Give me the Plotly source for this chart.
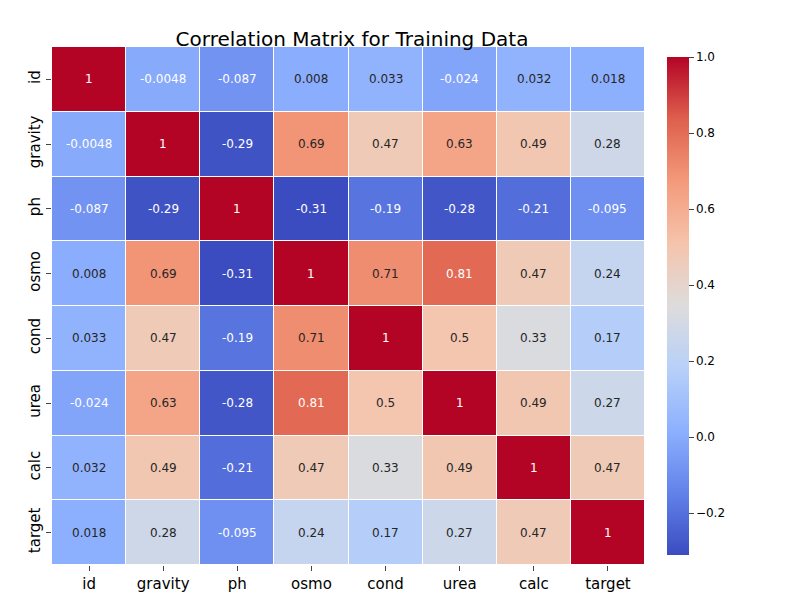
import plotly.graph_objects as go

labels = ["id", "gravity", "ph", "osmo", "cond", "urea", "calc", "target"]
corr = [
    [1, -0.0048, -0.087, 0.008, 0.033, -0.024, 0.032, 0.018],
    [-0.0048, 1, -0.29, 0.69, 0.47, 0.63, 0.49, 0.28],
    [-0.087, -0.29, 1, -0.31, -0.19, -0.28, -0.21, -0.095],
    [0.008, 0.69, -0.31, 1, 0.71, 0.81, 0.47, 0.24],
    [0.033, 0.47, -0.19, 0.71, 1, 0.5, 0.33, 0.17],
    [-0.024, 0.63, -0.28, 0.81, 0.5, 1, 0.49, 0.27],
    [0.032, 0.49, -0.21, 0.47, 0.33, 0.49, 1, 0.47],
    [0.018, 0.28, -0.095, 0.24, 0.17, 0.27, 0.47, 1],
]

coolwarm = [
    [0.0, "#3b4cc0"], [0.125, "#6282ea"], [0.25, "#8db0fe"], [0.375, "#b8d0f9"],
    [0.5, "#dddcdc"], [0.625, "#f5c4ac"], [0.75, "#f49a7b"], [0.875, "#de604d"],
    [1.0, "#b40426"],
]

fig = go.Figure(go.Heatmap(
    z=corr, x=labels, y=labels, colorscale=coolwarm, zmin=-0.31, zmax=1,
    xgap=1, ygap=1,
    colorbar=dict(thickness=22, len=1, y=0.5, yanchor="middle", x=1.02,
                  tickvals=[-0.2, 0, 0.2, 0.4, 0.6, 0.8, 1.0],
                  ticktext=["−0.2", "0.0", "0.2", "0.4", "0.6", "0.8", "1.0"],
                  outlinewidth=0, ticks="outside", tickfont=dict(size=12)),
))

for i, row in enumerate(corr):
    for j, v in enumerate(row):
        fig.add_annotation(x=labels[j], y=labels[i], text=str(v), showarrow=False,
                           font=dict(size=12, color="white" if (v < 0 or v > 0.75) else "#262626"))

fig.update_layout(
    width=800, height=600, plot_bgcolor="white", paper_bgcolor="white",
    font=dict(family="DejaVu Sans", color="black"),
    title=dict(text="Correlation Matrix for Training Data", x=0.43, xanchor="center",
               y=0.96, font=dict(size=20)),
    margin=dict(l=44, r=163, t=39, b=43),
)
fig.update_xaxes(showgrid=False, ticks="outside", tickfont=dict(size=15))
fig.update_yaxes(showgrid=False, autorange="reversed", ticks="outside",
                 tickangle=-90, tickfont=dict(size=15))
fig.write_html("out.html")
